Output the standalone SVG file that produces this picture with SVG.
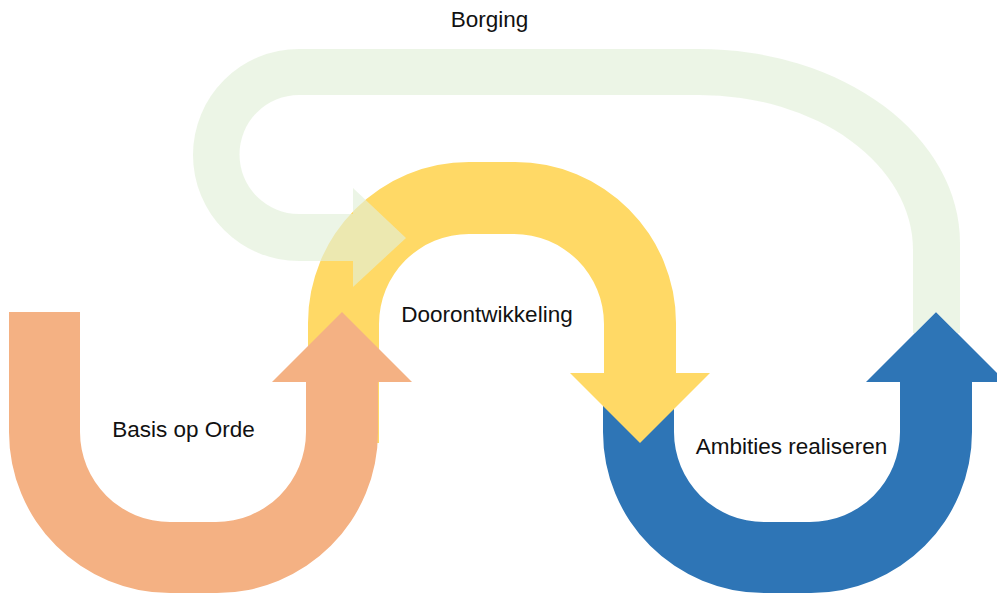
<svg xmlns="http://www.w3.org/2000/svg" width="997" height="593" viewBox="0 0 997 593">
<style>
  .lbl { font-family: "Liberation Sans", Arial, sans-serif; font-size: 22.5px; fill: #111111; text-anchor: middle; }
  .blue { fill: #2E75B6; }
  .yellow { fill: #FFD966; }
  .green { fill: #E2F0D9; fill-opacity: 0.65; }
  .orange { fill: #F4B183; }
</style>
<rect width="997" height="593" fill="#FFFFFF"/>
<g id="ambities">
  <path class="blue" d="M603,376 L674,376 L674,432 A90 90 0 0 0 764,522 L810,522 A90 90 0 0 0 900,432 L900,382 L866,382 L936,312 L1006,382 L972,382 L972,432 A161 161 0 0 1 811,593 L764,593 A161 161 0 0 1 603,432 Z"/>
</g>
<g id="doorontwikkeling">
  <path class="yellow" d="M308,443 L308,323 A161 161 0 0 1 469,162 L515,162 A161 161 0 0 1 676,323 L676,373 L710,373 L640,443 L570,373 L604,373 L604,324 A90 90 0 0 0 514,234 L469,234 A90 90 0 0 0 379,324 L379,443 Z"/>
</g>
<g id="borging">
  <path class="green" d="M353,214 L299,214 A59.5 59.5 0 0 1 299,95 L699,95 A214 155 0 0 1 913,250 L913,333 L915,333 L936,312 L957,333 L960,333 L960,243 A261 194 0 0 0 699,49 L299,49 A106 106 0 0 0 193,155 A106 106 0 0 0 299,261 L353,261 L353,287 L406,238 L353,188 Z"/>
</g>
<g id="basis">
  <path class="orange" d="M9,312 L80,312 L80,432 A90 90 0 0 0 170,522 L216,522 A90 90 0 0 0 306,432 L306,382 L272,382 L342,312 L412,382 L378,382 L378,432 A161 161 0 0 1 217,593 L170,593 A161 161 0 0 1 9,432 Z"/>
</g>
<g id="labels">
  <text class="lbl" x="489.5" y="27">Borging</text>
  <text class="lbl" x="487" y="322">Doorontwikkeling</text>
  <text class="lbl" x="183.5" y="437">Basis op Orde</text>
  <text class="lbl" x="791.5" y="454">Ambities realiseren</text>
</g>
<g id="connectors"></g>
</svg>
